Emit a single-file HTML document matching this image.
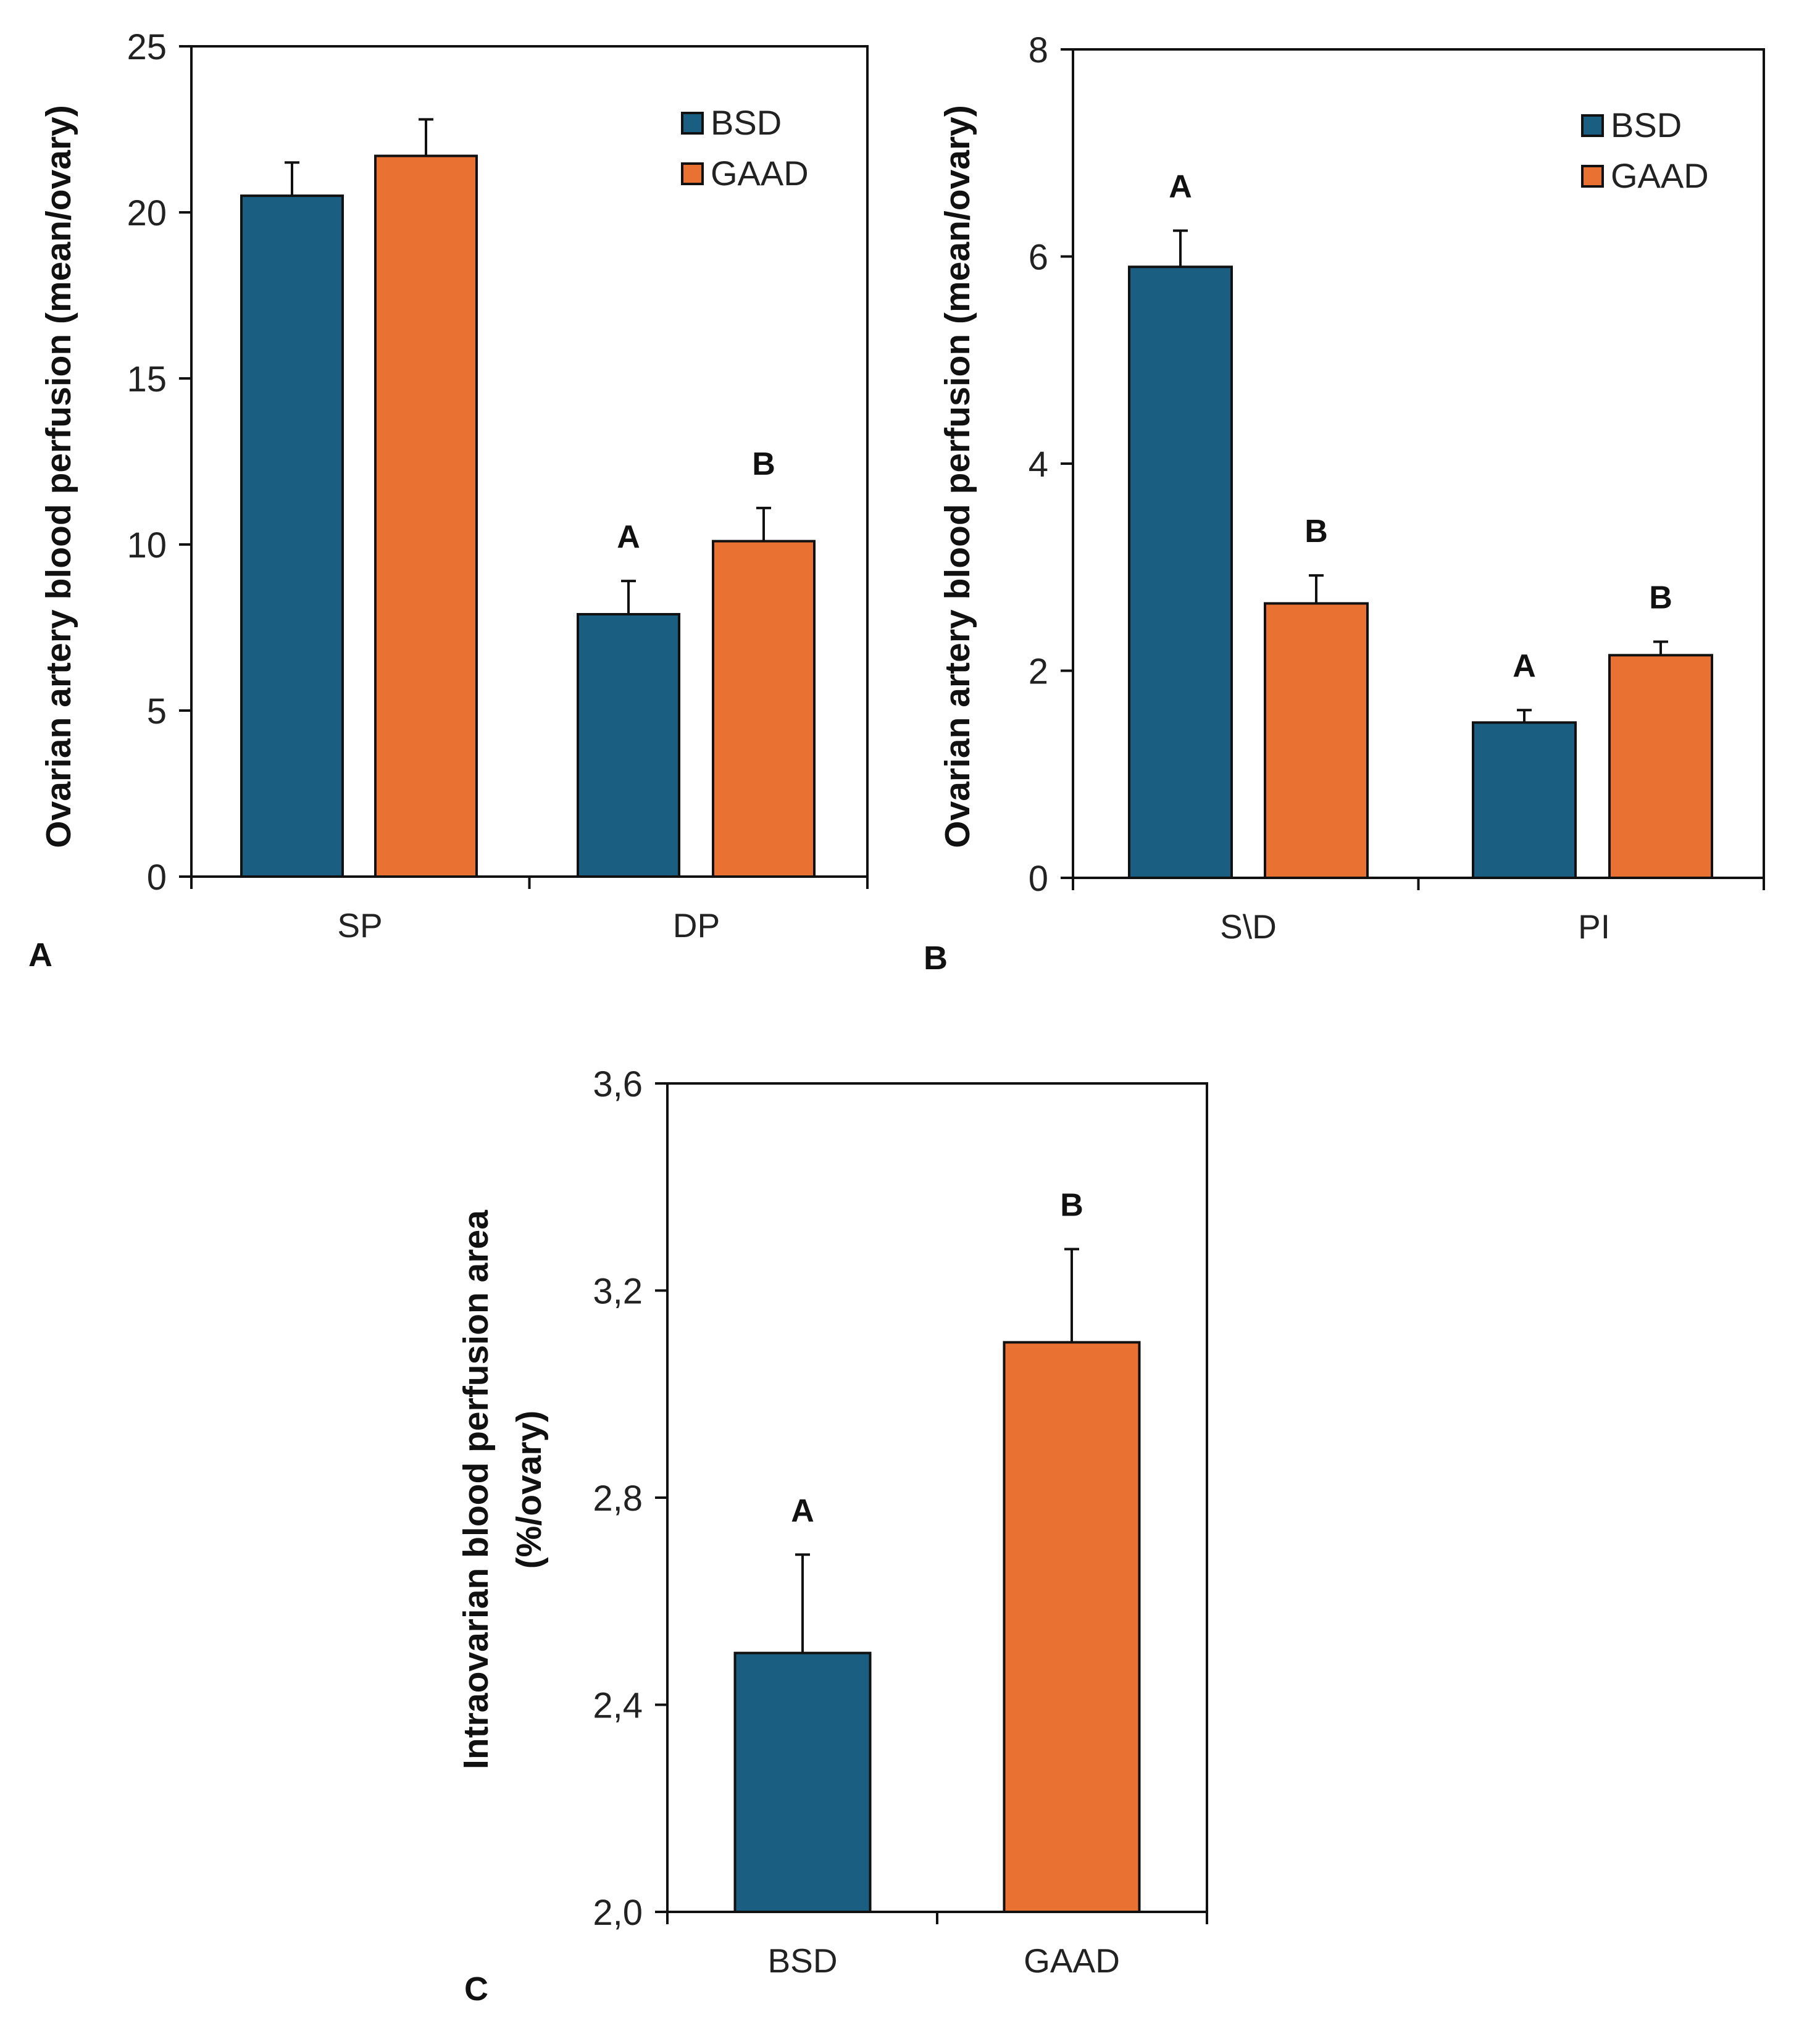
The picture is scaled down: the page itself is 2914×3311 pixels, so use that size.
<!DOCTYPE html>
<html><head><meta charset="utf-8">
<style>
html,body{margin:0;padding:0;background:#fff;}
svg{display:block;font-family:"Liberation Sans",Arial,sans-serif;}
</style></head>
<body>
<svg id="fig" width="2914" height="3311" viewBox="0 0 2914 3311" xmlns="http://www.w3.org/2000/svg"></svg>
<script>
// Panel A data
const catsA = ["SP", "DP"];
const bsdA = [20.5, 7.9];
const gaadA = [21.7, 10.1];
const bsdErrA = [1.0, 1.0];
const gaadErrA = [1.1, 1.0];
const bsdLetA = ["", "A"];
const gaadLetA = ["", "B"];
const ticksA = [0, 5, 10, 15, 20, 25];
const tickLabA = ["0", "5", "10", "15", "20", "25"];
// Panel B data
const catsB = ["S\\D", "PI"];
const bsdB = [5.9, 1.5];
const gaadB = [2.65, 2.15];
const bsdErrB = [0.35, 0.12];
const gaadErrB = [0.27, 0.13];
const bsdLetB = ["A", "A"];
const gaadLetB = ["B", "B"];
const ticksB = [0, 2, 4, 6, 8];
const tickLabB = ["0", "2", "4", "6", "8"];
// Panel C data
const catsC = ["BSD", "GAAD"];
const valsC = [2.5, 3.1];
const errC = [0.19, 0.18];
const letC = ["A", "B"];
const ticksC = [2.0, 2.4, 2.8, 3.2, 3.6];
const tickLabC = ["2,0", "2,4", "2,8", "3,2", "3,6"];

const BLUE = "#1a5e82", ORANGE = "#e97132";
const svg = document.getElementById("fig");
const NS = "http://www.w3.org/2000/svg";
function mk(tag, attrs, parent) {
  const e = document.createElementNS(NS, tag);
  for (const k in attrs) e.setAttribute(k, attrs[k]);
  (parent || svg).appendChild(e);
  return e;
}
function txt(s, attrs, parent) { const t = mk("text", attrs, parent); t.textContent = s; return t; }

function panel(cfg) {
  const g = mk("g", {});
  
  
  const {L, R, T, B, ymin, ymax} = cfg;
  const y = v => B - (v - ymin) / (ymax - ymin) * (B - T);
  const nc = cfg.ncat;
  const cw = (R - L) / nc;
  cfg.ticks.forEach((tv, i) => {
    const tk = mk("line", {x1: L - 20, x2: L, y1: y(tv), y2: y(tv), stroke: "#111", "stroke-width": 4}, g);
    
    
    const tl = txt(cfg.tickLabs[i], {x: L - 40, y: y(tv) + 21, "text-anchor": "end", "font-size": 58, fill: "#222"}, g);
    
    
  });
  for (let i = 0; i <= nc; i++) {
    const xt = L + i * cw;
    const tk = mk("line", {x1: xt, x2: xt, y1: B, y2: B + 20, stroke: "#111", "stroke-width": 4}, g);
    
    
  }
  cfg.series.forEach((s, si) => {
    s.vals.forEach((v, ci) => {
      const cx = cfg.barX(ci, si);
      const bw = cfg.bw;
      const col = s.colors ? s.colors[ci] : s.color;
      const r = mk("rect", {x: cx - bw / 2, y: y(v), width: bw, height: B - y(v), fill: col, stroke: "#111", "stroke-width": 4}, g);
      
      
      const top = y(v + s.err[ci]);
      const e1 = mk("line", {x1: cx, x2: cx, y1: y(v), y2: top, stroke: "#111", "stroke-width": 4}, g);
      
      
      const e2 = mk("line", {x1: cx - 12, x2: cx + 12, y1: top, y2: top, stroke: "#111", "stroke-width": 4}, g);
      
      
      if (s.lets[ci]) {
        const lt = txt(s.lets[ci], {x: cx, y: top - 54, "text-anchor": "middle", "font-size": 52, "font-weight": "bold", fill: "#111"}, g);
        
        
      }
    });
  });
  const fr = mk("rect", {x: L, y: T, width: R - L, height: B - T, fill: "none", stroke: "#111", "stroke-width": 4}, g);
  
  
  cfg.cats.forEach((c, i) => {
    const cl = txt(c, {x: cfg.catX(i), y: B + 98, "text-anchor": "middle", "font-size": 55, fill: "#222"}, g);
    
    
  });
  cfg.ytitle.forEach((line, i) => {
    const yx = cfg.ytx + i * 86;
    const yt = txt(line, {x: yx, y: cfg.tyc, "text-anchor": "middle", "font-size": 57, "font-weight": "bold", fill: "#111", transform: `rotate(-90 ${yx} ${cfg.tyc})`}, g);
    
    
  });
  const pl = txt(cfg.letter, {x: cfg.lx, y: cfg.ly, "font-size": 54, "font-weight": "bold", fill: "#111"}, g);
  
  
  if (cfg.legend) {
    [["BSD", BLUE], ["GAAD", ORANGE]].forEach((it, i) => {
      const ly = cfg.legend.y + i * 82;
      const sq = mk("rect", {x: cfg.legend.x, y: ly, width: 33, height: 33, fill: it[1], stroke: "#111", "stroke-width": 4}, g);
      
      
      const lt = txt(it[0], {x: cfg.legend.x + 46, y: ly + 35, "font-size": 56, fill: "#222"}, g);
      
      
    });
  }
}

panel({name: "panel-a", L: 310, R: 1405, T: 75, B: 1420, ymin: 0, ymax: 25, ncat: 2,
  ticks: ticksA, tickLabs: tickLabA, cats: catsA, bw: 164,
  barX: (ci, si) => [[473, 690], [1018, 1237]][ci][si],
  catX: i => [583, 1128][i],
  series: [{key: "bsd", vals: bsdA, err: bsdErrA, lets: bsdLetA, color: BLUE},
           {key: "gaad", vals: gaadA, err: gaadErrA, lets: gaadLetA, color: ORANGE}],
  ytitle: ["Ovarian artery blood perfusion (mean/ovary)"], ytx: 114, tyc: 772,
  letter: "A", lx: 46, ly: 1565, legend: {x: 1105, y: 183}});

panel({name: "panel-b", L: 1738, R: 2857, T: 80, B: 1422, ymin: 0, ymax: 8, ncat: 2,
  ticks: ticksB, tickLabs: tickLabB, cats: catsB, bw: 166,
  barX: (ci, si) => [[1912, 2132], [2469, 2690]][ci][si],
  catX: i => [2022, 2582][i],
  series: [{key: "bsd", vals: bsdB, err: bsdErrB, lets: bsdLetB, color: BLUE},
           {key: "gaad", vals: gaadB, err: gaadErrB, lets: gaadLetB, color: ORANGE}],
  ytitle: ["Ovarian artery blood perfusion (mean/ovary)"], ytx: 1570, tyc: 772,
  letter: "B", lx: 1496, ly: 1570, legend: {x: 2563, y: 187}});

panel({name: "panel-c", L: 1081, R: 1955, T: 1755, B: 3097, ymin: 2.0, ymax: 3.6, ncat: 2,
  ticks: ticksC, tickLabs: tickLabC, cats: catsC, bw: 219,
  barX: (ci, si) => [1300, 1736][ci],
  catX: i => [1300, 1736][i],
  series: [{key: "group", vals: valsC, err: errC, lets: letC, colors: [BLUE, ORANGE]}],
  ytitle: ["Intraovarian blood perfusion area", "(%/ovary)"], ytx: 790, tyc: 2413,
  letter: "C", lx: 752, ly: 3240, legend: null});
</script>
</body></html>
